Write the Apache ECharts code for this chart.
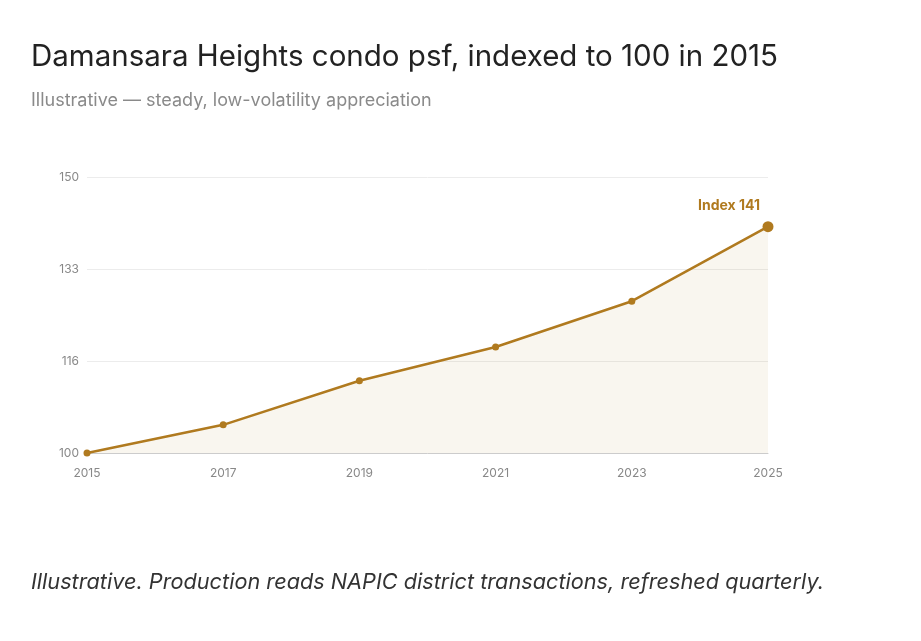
<!DOCTYPE html>
<html><head><meta charset="utf-8">
<script src="https://cdn.jsdelivr.net/npm/echarts@6/dist/echarts.min.js"></script>
<style>html,body{margin:0;padding:0;background:#fff}#c{width:921px;height:641px}</style>
</head><body><div id="c"></div>
<script>
const categories = ['2015','2017','2019','2021','2023','2025'];
const indexValues = [100, 105.1, 113.1, 119.2, 127.5, 141];
const yTicks = [100, 150];
const color = '#b07a1f';
const chart = echarts.init(document.getElementById('c'));
chart.setOption({
  animation:false,
  title:[
    {text:'Damansara Heights condo psf, indexed to 100 in 2015',left:26,top:37,textStyle:{fontFamily:'Inter',fontSize:29.5,fontWeight:'normal',color:'#222'}},
    {text:'Illustrative — steady, low-volatility appreciation',left:26,top:87,textStyle:{fontFamily:'Inter',fontSize:18,fontWeight:'normal',color:'#8a8a8a'}},
    {text:'Illustrative. Production reads NAPIC district transactions, refreshed quarterly.',left:26,top:566,textStyle:{fontFamily:'Inter',fontSize:21.7,fontStyle:'italic',fontWeight:'normal',color:'#333'}}
  ],
  grid:{left:87,right:153,top:177,bottom:188},
  xAxis:{type:'category',data:categories,boundaryGap:false,
    axisLine:{lineStyle:{color:'#ccc'}},axisTick:{show:false},
    axisLabel:{color:'#888',fontFamily:'Inter',fontSize:12,margin:14}},
  yAxis:{type:'value',min:yTicks[0],max:yTicks[1],splitNumber:3,interval:50/3,
    axisLine:{show:false},axisTick:{show:false},
    axisLabel:{color:'#888',fontFamily:'Inter',fontSize:12,margin:8,formatter:v=>Math.floor(v+0.001)},
    splitLine:{lineStyle:{color:'#ececec'}}},
  series:[{type:'line',data:indexValues.map((v,i)=>i===indexValues.length-1?{value:v,symbolSize:11,label:{show:true,position:'top',offset:[-39,-3],formatter:'Index 141',color:color,fontWeight:'bold',fontSize:14,fontFamily:'Inter'}}:v),
    symbol:'circle',symbolSize:7,lineStyle:{color:color,width:2.5},itemStyle:{color:color},
    areaStyle:{color:'rgba(176,122,31,0.1)'}}]
});
</script></body></html>
